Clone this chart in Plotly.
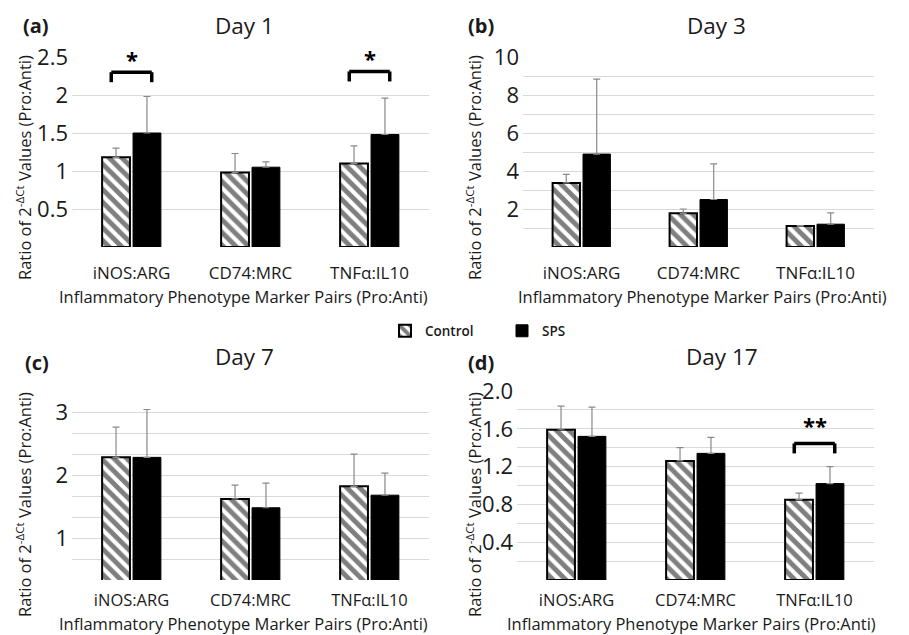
import plotly.graph_objects as go
from plotly.subplots import make_subplots

# ---------------- data ----------------
categories = ["iNOS:ARG", "CD74:MRC", "TNFα:IL10"]

day1_control = [1.18, 0.98, 1.10]
day1_control_sd = [0.12, 0.25, 0.23]
day1_sps = [1.50, 1.05, 1.48]
day1_sps_sd = [0.48, 0.07, 0.48]

day3_control = [3.37, 1.77, 1.10]
day3_control_sd = [0.45, 0.23, 0.02]
day3_sps = [4.89, 2.50, 1.20]
day3_sps_sd = [3.95, 1.87, 0.60]

day7_control = [2.28, 1.62, 1.82]
day7_control_sd = [0.48, 0.22, 0.51]
day7_sps = [2.28, 1.48, 1.68]
day7_sps_sd = [0.76, 0.39, 0.35]

day17_control = [1.59, 1.26, 0.85]
day17_control_sd = [0.25, 0.14, 0.07]
day17_sps = [1.52, 1.34, 1.02]
day17_sps_sd = [0.31, 0.17, 0.18]

# significance brackets: category index, bracket height, label
day1_sig_idx = [0, 2]
day1_sig_y = [2.30, 2.31]
day1_sig_label = ["*", "*"]
day17_sig_idx = [2]
day17_sig_y = [1.445]
day17_sig_label = ["**"]

# tick values / labels
day1_ticks = [0, 0.5, 1, 1.5, 2, 2.5]
day1_ticktext = ["", "0.5", "1", "1.5", "2", "2.5"]
day3_ticks = [0, 1, 2, 3, 4, 5, 6, 7, 8, 9, 10]
day3_ticktext = ["", "", "2", "", "4", "", "6", "", "8", "", "10"]
day7_ticks = [k / 3 for k in range(1, 11)]
day7_ticktext = ["", "", "1", "", "", "2", "", "", "3", ""]
day17_ticks = [0, 0.2, 0.4, 0.6, 0.8, 1.0, 1.2, 1.4, 1.6, 1.8, 2.0]
day17_ticktext = ["", "", "0.4", "", "0.8", "", "1.2", "", "1.6", "", "2.0"]

panel_titles = ["Day 1", "Day 3", "Day 7", "Day 17"]
panel_letters = ["(a)", "(b)", "(c)", "(d)"]
x_title = "Inflammatory Phenotype Marker Pairs (Pro:Anti)"
y_title = "Ratio of 2<sup>-ΔCt</sup> Values (Pro:Anti)"

# ---------------- layout helpers ----------------
W, H = 909, 635
FONT = "Open Sans"
TXT = "#1a1a1a"


def px(x):
    return x / W


def py(y):
    return 1 - y / H


panels = [
    dict(c=day1_control, csd=day1_control_sd, s=day1_sps, ssd=day1_sps_sd,
         ticks=day1_ticks, tt=day1_ticktext, rng=[0, 2.5], ppu=76, star_shift=-4,
         dom_x=[72, 429], dom_y=[57, 247], cat_standoff=14, cat_size=17,
         title_xy=(244, 25), letter_xy=(36, 26), ytitle_xy=(24, 168), xtitle_xy=(243, 297),
         sig=(day1_sig_idx, day1_sig_y, day1_sig_label)),
    dict(c=day3_control, csd=day3_control_sd, s=day3_sps, ssd=day3_sps_sd,
         ticks=day3_ticks, tt=day3_ticktext, rng=[0, 10], ppu=19, star_shift=0,
         dom_x=[523, 874], dom_y=[57, 247], cat_standoff=14, cat_size=17,
         title_xy=(716, 25), letter_xy=(481, 26), ytitle_xy=(474, 168), xtitle_xy=(702, 297),
         sig=None),
    dict(c=day7_control, csd=day7_control_sd, s=day7_sps, ssd=day7_sps_sd,
         ticks=day7_ticks, tt=day7_ticktext, rng=[1 / 3, 10 / 3], ppu=63, star_shift=0,
         dom_x=[72, 429], dom_y=[391, 580], cat_standoff=8, cat_size=16.5,
         title_xy=(244, 356), letter_xy=(37, 362), ytitle_xy=(24, 505), xtitle_xy=(243, 623),
         sig=None),
    dict(c=day17_control, csd=day17_control_sd, s=day17_sps, ssd=day17_sps_sd,
         ticks=day17_ticks, tt=day17_ticktext, rng=[0, 2.0], ppu=95, star_shift=1,
         dom_x=[517, 874], dom_y=[391, 580], cat_standoff=8, cat_size=16.5,
         title_xy=(722, 356), letter_xy=(481, 362), ytitle_xy=(474, 505), xtitle_xy=(691, 623),
         sig=(day17_sig_idx, day17_sig_y, day17_sig_label)),
]

fig = make_subplots(rows=2, cols=2)

pattern = dict(shape="\\", fgcolor="black", bgcolor="white", size=9, solidity=0.55)
err_style = dict(type="data", symmetric=False, color="#8a8a8a", thickness=1.2, width=3.5)

annotations = []
shapes = []
for i, p in enumerate(panels):
    r, c = i // 2 + 1, i % 2 + 1
    fig.add_trace(go.Bar(
        x=categories, y=p["c"], name="Control", legendgroup="control", showlegend=(i == 0),
        marker=dict(color="white", pattern=pattern, line=dict(color="black", width=2)),
        error_y=dict(array=p["csd"], arrayminus=[0] * 3, **err_style),
    ), row=r, col=c)
    fig.add_trace(go.Bar(
        x=categories, y=p["s"], name="SPS", legendgroup="sps", showlegend=(i == 0),
        marker=dict(color="black", line=dict(color="black", width=1)),
        error_y=dict(array=p["ssd"], arrayminus=[0] * 3, **err_style),
    ), row=r, col=c)

    ax = "" if i == 0 else str(i + 1)
    fig.layout["xaxis" + ax].update(
        domain=[px(p["dom_x"][0]), px(p["dom_x"][1])], automargin=False,
        range=[-0.5, 2.5], showline=False, showgrid=False, zeroline=False, ticks="",
        ticklabelstandoff=p["cat_standoff"],
        tickfont=dict(family=FONT, size=p["cat_size"], color=TXT),
    )
    fig.layout["yaxis" + ax].update(
        domain=[py(p["dom_y"][1]), py(p["dom_y"][0])], automargin=False,
        range=p["rng"], tickmode="array", tickvals=p["ticks"], ticktext=p["tt"],
        showgrid=True, gridcolor="#d9d9d9", gridwidth=1, zeroline=False, showline=False,
        ticks="", ticklabelstandoff=3,
        tickfont=dict(family=FONT, size=22, color=TXT),
    )

    annotations += [
        dict(text=panel_titles[i], x=px(p["title_xy"][0]), y=py(p["title_xy"][1]),
             xref="paper", yref="paper", showarrow=False, xanchor="center", yanchor="middle",
             font=dict(family=FONT, size=22.5, color=TXT)),
        dict(text="<b>" + panel_letters[i] + "</b>", x=px(p["letter_xy"][0]), y=py(p["letter_xy"][1]),
             xref="paper", yref="paper", showarrow=False, xanchor="center", yanchor="middle",
             font=dict(family=FONT, size=20, color=TXT)),
        dict(text=y_title, x=px(p["ytitle_xy"][0]), y=py(p["ytitle_xy"][1]), textangle=-90,
             xref="paper", yref="paper", showarrow=False, xanchor="center", yanchor="middle",
             font=dict(family=FONT, size=16.5, color=TXT)),
        dict(text=x_title, x=px(p["xtitle_xy"][0]), y=py(p["xtitle_xy"][1]),
             xref="paper", yref="paper", showarrow=False, xanchor="center", yanchor="middle",
             font=dict(family=FONT, size=16.5, color=TXT)),
    ]

    if p["sig"]:
        idxs, ys, labels = p["sig"]
        leg = 10 / p["ppu"]
        xr = "x" + ax if ax else "x"
        yr = "y" + ax if ax else "y"
        for k, yv, lab in zip(idxs, ys, labels):
            segs = [(k - 0.17, yv - leg, k - 0.17, yv), (k - 0.17, yv, k + 0.17, yv),
                    (k + 0.17, yv, k + 0.17, yv - leg)]
            for x0, y0, x1, y1 in segs:
                shapes.append(dict(type="line", xref=xr, yref=yr, x0=x0, y0=y0, x1=x1, y1=y1,
                                   line=dict(color="black", width=3.5)))
            annotations.append(dict(
                text="<b>" + lab + "</b>", x=k, y=yv, xref=xr, yref=yr,
                showarrow=False, xanchor="center", yanchor="bottom", yshift=p["star_shift"],
                font=dict(family=FONT, size=22, color="black")))

fig.update_layout(
    width=W, height=H, margin=dict(l=0, r=0, t=0, b=0, autoexpand=False),
    paper_bgcolor="white", plot_bgcolor="white",
    barmode="group", bargap=0.48, bargroupgap=0.1,
    annotations=annotations, shapes=shapes,
    legend=dict(orientation="h", x=px(385), y=py(331), xanchor="left", yanchor="middle",
                font=dict(family=FONT, size=13.5, color=TXT, weight=600),
                itemwidth=30, entrywidth=72, bgcolor="rgba(0,0,0,0)"),
    showlegend=True,
)

fig.write_html("out.html")
